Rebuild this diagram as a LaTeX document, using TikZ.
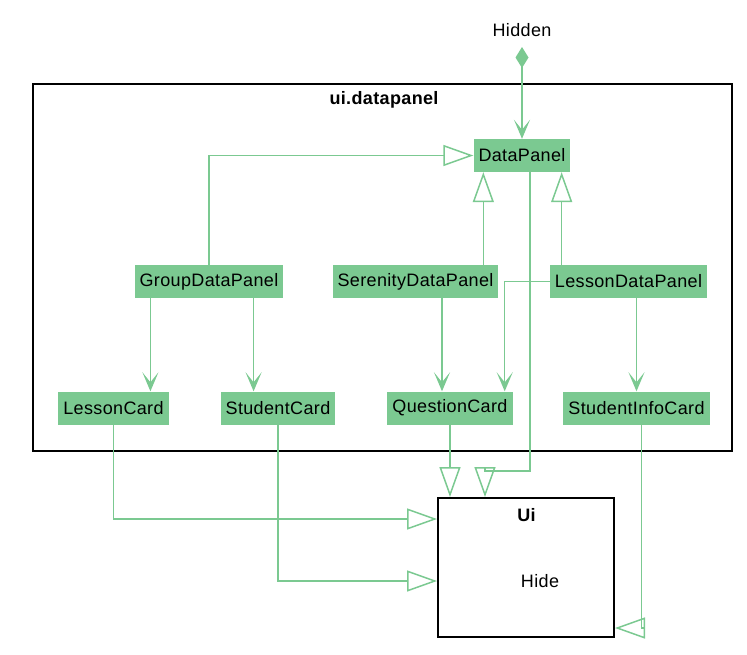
\documentclass[tikz,border=0pt]{standalone}
\usepackage{fontspec}
\setmainfont{Liberation Sans}[LetterSpace=2]
\usetikzlibrary{arrows.meta}
\definecolor{umlgreen}{RGB}{123,201,145}
\begin{document}
\begin{tikzpicture}[
    x=1pt, y=-1pt,
    txt/.style={font=\fontsize{18}{21}\selectfont},
    cls/.style={txt, rectangle, fill=umlgreen, inner xsep=5pt, minimum height=33pt, align=center},
    frame/.style={draw=black, line width=2pt},
    link/.style={draw=umlgreen, line width=1.5pt},
    inherit/.style={link, -{Triangle[open, length=30pt, width=21pt, line width=1.5pt]}},
    dep/.style={link, -{Stealth[length=19pt, width=16pt, inset=10pt]}},
    comp/.style={link, {Diamond[length=21pt, width=13pt]}-{Stealth[length=19pt, width=16pt, inset=10pt]}}
]
\useasboundingbox (0,0) rectangle (747,654);

% Package
\draw[frame] (33,84) rectangle (732,451);
\node[txt, font=\fontsize{18}{21}\selectfont\bfseries] (pkgtitle) at (384,100) {ui.datapanel};

% Classes
\node[cls] (datapanel) at (522,155.5) {DataPanel};
\node[cls] (groupdp) at (209,281.5) {GroupDataPanel};
\node[cls] (serenitydp) at (415.5,281.5) {SerenityDataPanel};
\node[cls] (lessondp) at (628.5,281.5) {LessonDataPanel};
\node[cls] (lessoncard) at (113.5,408) {LessonCard};
\node[cls] (studentcard) at (278,408) {StudentCard};
\node[cls] (questioncard) at (450,408) {QuestionCard};
\node[cls] (studentinfocard) at (636.5,408) {StudentInfoCard};

% Outside
\node[txt] (hidden) at (522,30) {Hidden};
\node[frame, rectangle, minimum width=176pt, minimum height=139pt] (ui) at (526,567.5) {};
\node[txt, font=\fontsize{18}{21}\selectfont\bfseries] (uititle) at (526.5,515) {Ui};
\node[txt] (hide) at (540,581.5) {Hide};

% Anchors
\coordinate (dpin1) at ([xshift=10pt]datapanel.south west);
\coordinate (dpin2) at ([xshift=-9pt]datapanel.south east);
\coordinate (dpout) at ([xshift=8pt]datapanel.south);
\coordinate (uiin1) at ([xshift=48pt]ui.north west);
\coordinate (uiin2) at ([yshift=-22pt]ui.north west);
\coordinate (uiin3) at ([yshift=-84pt]ui.north west);
\coordinate (uiin4) at ([yshift=10pt]ui.south east);
\coordinate (sicout) at ([xshift=5pt]studentinfocard.south);
\coordinate (gout1) at ([xshift=16pt]groupdp.south west);
\coordinate (gout2) at ([xshift=-30pt]groupdp.south east);
\coordinate (qin1) at ([xshift=-8pt]questioncard.north);
\coordinate (qin2) at ([xshift=-8pt]questioncard.north east);

% Composition
\draw[comp] ([yshift=-17pt]hidden.center) -- (datapanel);

% Inheritance
\draw[inherit] (groupdp) |- (datapanel);
\draw[inherit] (serenitydp.north -| dpin1) -- (dpin1);
\draw[inherit] (lessondp.north -| dpin2) -- (dpin2);
\draw[inherit] (dpout) |- ([yshift=26pt]uiin1) -- (uiin1);
\draw[inherit] (questioncard.south) -- (questioncard.south |- ui.north);
\draw[inherit] (lessoncard) |- (uiin2);
\draw[inherit] (studentcard) |- (uiin3);
\draw[inherit] (sicout) |- (uiin4);

% Dependencies
\draw[dep] (gout1) -- (gout1 |- lessoncard.north);
\draw[dep] (gout2) -- (gout2 |- studentcard.north);
\draw[dep] (qin1 |- serenitydp.south) -- (qin1);
\draw[dep] (lessondp.west) -| (qin2);
\draw[dep] (studentinfocard.north |- lessondp.south) -- (studentinfocard.north);

\end{tikzpicture}
\end{document}
